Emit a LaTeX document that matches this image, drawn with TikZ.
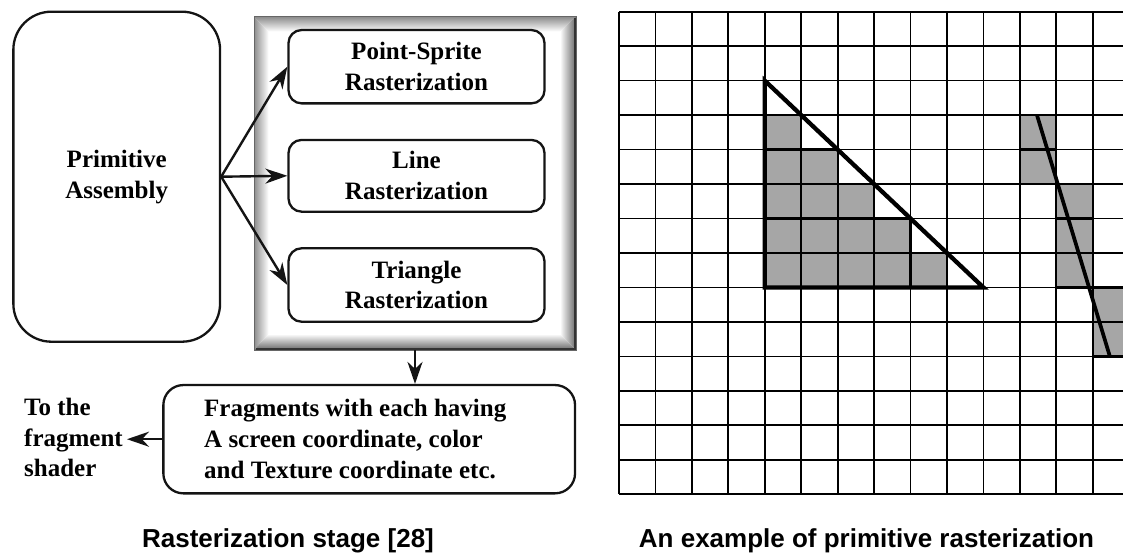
\documentclass[tikz,border=0pt]{standalone}
\usepackage{fontspec}
\setmainfont{Liberation Serif}
\newfontfamily\capsans{Liberation Sans}
\usetikzlibrary{arrows.meta,calc}
\definecolor{cellgray}{RGB}{166,166,166}
\definecolor{inkline}{RGB}{20,20,20}
\tikzset{
  boxtext/.style={font=\fontsize{25}{30.8}\selectfont\bfseries},
  stagebox/.style={draw=inkline, line width=2.3pt, fill=white, rounded corners=13pt,
    inner sep=0pt, align=center, boxtext},
  flow/.style={draw=inkline, line width=2.4pt, -{Stealth[length=22pt,width=15pt,inset=7pt]}},
  gridline/.style={line width=1.7pt, black},
  cellrim/.style={line width=2.3pt, black},
  figcaption/.style={font=\capsans\bfseries\fontsize{26}{30}\selectfont, anchor=base, inner sep=0pt},
}
\begin{document}
\begin{tikzpicture}[x=1pt,y=-1pt]
\useasboundingbox (0,0) rectangle (1123,554);
\fill[white] (0,0) rectangle (1123,554);

% ---------- bevelled frame around the three rasterizers ----------
\node[minimum width=322pt, minimum height=333.3pt, inner sep=0pt] (frame) at (415,183.35) {};
\shade[top color=black!45, bottom color=white]
  (254,16.7) -- (576,16.7) -- (560,31.5) -- (268.5,31.5) -- cycle;
\shade[left color=black!45, right color=white]
  (254,16.7) -- (268.5,31.5) -- (268.5,334) -- (254,350) -- cycle;
\shade[left color=white, right color=black!60]
  (576,16.7) -- (576,350) -- (560,334) -- (560,31.5) -- cycle;
\shade[top color=white, bottom color=black!60]
  (254,350) -- (576,350) -- (560,334) -- (268.5,334) -- cycle;
\draw[black!60, line width=1pt] (254,16.7) rectangle (576,350);
\draw[black!80, line width=2pt] (575,18) -- (575,349) -- (255.5,349);

% ---------- pipeline blocks ----------
\node[stagebox, minimum width=206.7pt, minimum height=330pt, rounded corners=38pt]
  (prim) at (116.7,176.7) {Primitive\\Assembly};
\node[stagebox, minimum width=256pt, minimum height=73.3pt]
  (psr) at (416.5,66.7) {Point-Sprite\\Rasterization};
\node[stagebox, minimum width=256pt, minimum height=71.7pt]
  (lr) at (416.5,175.8) {Line\\Rasterization};
\node[stagebox, minimum width=256pt, minimum height=73.4pt]
  (tr) at (416.5,285) {Triangle\\Rasterization};
\node[stagebox, minimum width=411.7pt, minimum height=108.3pt, rounded corners=20pt]
  (frag) at (369.2,439.2) {};
\node[boxtext, anchor=west, align=left, inner sep=0pt] (fragtext) at (204,439)
  {Fragments with each having\\A screen coordinate, color\\and Texture coordinate etc.};
\node[boxtext, anchor=west, align=left, inner sep=0pt] (dest) at (24,437.5)
  {To the\\fragment\\shader};

% ---------- connectors ----------
\draw[flow] (prim.east) -- (psr.west);
\draw[flow] (prim.east) -- (lr.west);
\draw[flow] (prim.east) -- (tr.west);
\draw[flow] (frame.south) -- (frame.south |- frag.north);
\draw[flow] (frag.west) -- ($(dest.east |- frag.west)+(4,0)$);

% ---------- rasterization grid ----------
\begin{scope}
  \clip (600,0) rectangle (1123,554);
  \begin{scope}[shift={(619,11.7)}, x=36.44pt, y=-34.47pt]
    \foreach \c/\r in {4/3, 4/4,5/4, 4/5,5/5,6/5, 4/6,5/6,6/6,7/6, 4/7,5/7,6/7,7/7,8/7,
                       11/3,11/4,12/5,12/6,12/7,13/8,13/9}
      \fill[cellgray] (\c,\r) rectangle ++(1,1);
    \foreach \i in {0,...,14}
      \draw[gridline] (\i,0) -- (\i,14);
    \foreach \j in {0,...,14}
      \draw[gridline] (0,\j) -- (14,\j);
    \foreach \c/\r in {4/3, 4/4,5/4, 4/5,5/5,6/5, 4/6,5/6,6/6,7/6, 4/7,5/7,6/7,7/7,8/7,
                       11/3,11/4,12/5,12/6,12/7,13/8,13/9}
      \draw[cellrim] (\c,\r) rectangle ++(1,1);
    % triangle primitive
    \draw[line width=4.3pt, line join=miter] (4,2) -- (4,8) -- (10,8) -- cycle;
    % line primitive
    \draw[line width=3.7pt] (11.47,3) -- (13.47,10);
  \end{scope}
\end{scope}

% ---------- captions ----------
\node[figcaption] (capA) at (288,547) {Rasterization stage [28]};
\node[figcaption] (capB) at (866.5,547) {An example of primitive rasterization};
\end{tikzpicture}
\end{document}
